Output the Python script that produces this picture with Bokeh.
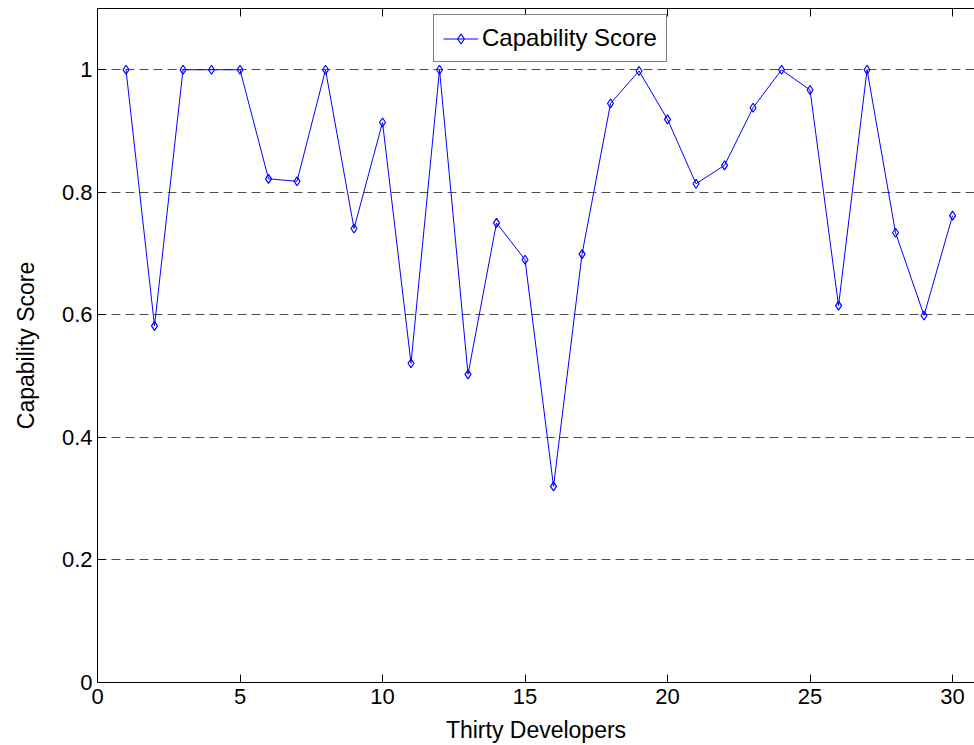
from bokeh.plotting import figure
from bokeh.models import LinearAxis, FixedTicker, CustomJSTickFormatter, Range1d, CustomLabelingPolicy
from bokeh.embed import file_html
from bokeh.resources import INLINE

developers = list(range(1, 31))
capability = [1.0, 0.582, 1.0, 1.0, 1.0, 0.822, 0.818, 1.0, 0.741, 0.914,
              0.521, 1.0, 0.503, 0.750, 0.690, 0.320, 0.699, 0.945, 0.998, 0.919,
              0.814, 0.844, 0.938, 1.0, 0.967, 0.615, 1.0, 0.734, 0.599, 0.762]
x_ticks = [0, 5, 10, 15, 20, 25, 30]
y_ticks = [0, 0.2, 0.4, 0.6, 0.8, 1.0]
series_name = "Capability Score"
x_title = "Thirty Developers"
y_title = "Capability Score"

FONT = "Liberation Sans"
BLUE = "#0000ff"

p = figure(width=974, height=745, output_backend="svg", toolbar_location=None,
           x_range=Range1d(0, 30.77), y_range=Range1d(0, 1.1),
           min_border_left=97, min_border_right=0, min_border_top=8, min_border_bottom=0,
           x_axis_label=x_title, y_axis_label=y_title)
p.outline_line_color = None
p.background_fill_color = "white"
p.border_fill_color = "white"

p.line(developers, capability, line_color=BLUE, line_width=1, legend_label=series_name)
p.scatter(developers, capability, marker="diamond", size=9, line_color=BLUE,
          fill_color=None, line_width=1.2, legend_label=series_name)

for ax in (p.xaxis[0], p.yaxis[0]):
    ax.major_tick_in = 8
    ax.major_tick_out = 0
    ax.minor_tick_line_color = None
    ax.axis_line_color = "black"
    ax.major_tick_line_color = "black"
    ax.major_label_text_font = FONT
    ax.major_label_text_font_size = "22px"
    ax.major_label_text_color = "black"
    ax.axis_label_text_font = FONT
    ax.axis_label_text_font_size = "23px"
    ax.axis_label_text_font_style = "normal"
    ax.axis_label_text_color = "black"

p.xaxis[0].ticker = FixedTicker(ticks=x_ticks)
p.yaxis[0].ticker = FixedTicker(ticks=y_ticks)
p.yaxis[0].formatter = CustomJSTickFormatter(code="return String(Math.round(tick*10)/10);")
p.xaxis[0].major_label_standoff = 6
p.xaxis[0].axis_label_standoff = 10
p.yaxis[0].major_label_standoff = 5
p.yaxis[0].axis_label_standoff = 20

no_labels = CustomLabelingPolicy(code="""
for (const i of indices)
    indices.unset(i)
return indices
""")
top = LinearAxis(ticker=FixedTicker(ticks=x_ticks), major_tick_in=8, major_tick_out=0,
                 minor_tick_line_color=None, major_label_policy=no_labels,
                 major_label_text_font_size="2px",
                 major_label_standoff=0, axis_line_color="black",
                 major_tick_line_color="black")
p.add_layout(top, "above")

p.xgrid.grid_line_color = None
p.ygrid.grid_line_color = "#4d4d4d"
p.ygrid.grid_line_dash = "9 5"
p.ygrid.grid_line_width = 1
p.ygrid.ticker = FixedTicker(ticks=y_ticks[1:])

lg = p.legend[0]
lg.location = (336, 620)
lg.label_text_font = FONT
lg.label_text_font_size = "24px"
lg.label_text_color = "black"
lg.border_line_color = "black"
lg.border_line_width = 1.5
lg.background_fill_color = "white"
lg.background_fill_alpha = 1
lg.glyph_width = 35
lg.glyph_height = 25
lg.label_standoff = 4
lg.padding = 9
lg.spacing = 0
lg.margin = 0

open("out.html", "w").write(file_html(p, INLINE))
